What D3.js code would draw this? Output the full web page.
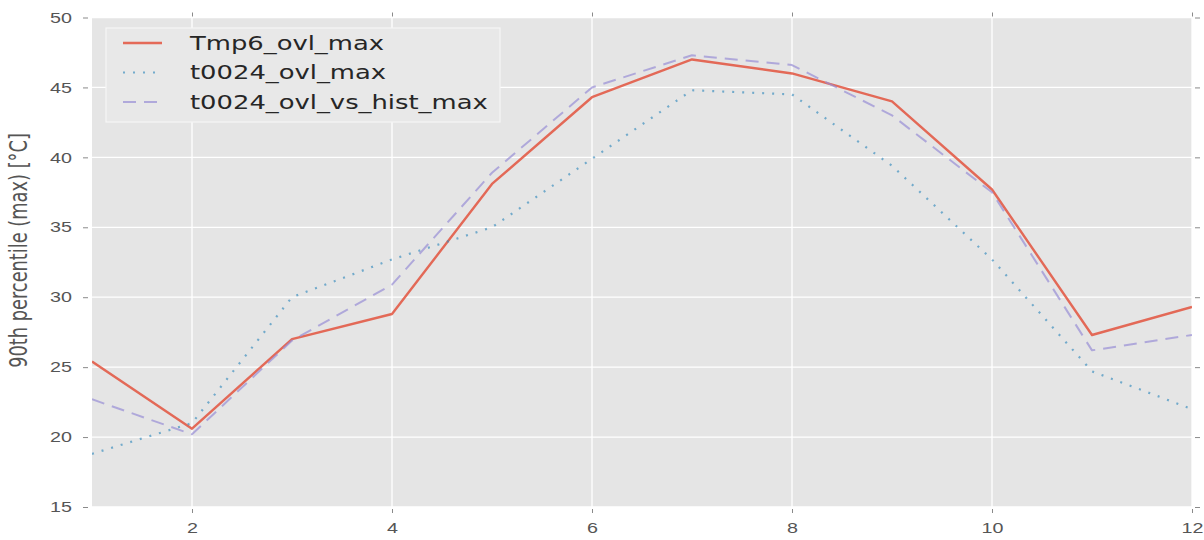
<!DOCTYPE html>
<html>
<head>
<meta charset="utf-8">
<script src="https://cdn.jsdelivr.net/npm/d3@7"></script>
<style>
  body { margin: 0; background: #fff; }
  svg { display: block; font-family: "DejaVu Sans", sans-serif; }
  .grid line { stroke: #fff; stroke-width: 1.3; }
  .axis path { display: none; }
  .axis line { stroke: #8a8a8a; stroke-width: 1; }
  .axis text { fill: #555; font-size: 14.5px; }
</style>
</head>
<body>
<svg width="1204" height="540"></svg>
<script>
const months = [1, 2, 3, 4, 5, 6, 7, 8, 9, 10, 11, 12];
const tmp6 = [25.4, 20.6, 27.0, 28.8, 38.1, 44.3, 47.0, 46.0, 44.0, 37.7, 27.3, 29.3];
const t0024 = [18.8, 21.0, 30.0, 32.7, 35.0, 39.9, 44.8, 44.5, 39.4, 32.7, 24.7, 22.0];
const t0024Hist = [22.7, 20.2, 26.9, 30.9, 38.9, 45.0, 47.3, 46.6, 43.0, 37.5, 26.2, 27.3];
const xTicks = [2, 4, 6, 8, 10, 12];
const yTicks = [15, 20, 25, 30, 35, 40, 45, 50];
const seriesNames = ["Tmp6_ovl_max", "t0024_ovl_max", "t0024_ovl_vs_hist_max"];
const yLabel = "90th percentile (max) [°C]";

// the picture is stretched sideways, so text gets the same stretch
const SX = 1.36;

const svg = d3.select("svg");
const pLeft = 92, pRight = 1192, pTop = 17.5, pBottom = 507;

const x = d3.scaleLinear().domain([1, 12]).range([pLeft, pRight]);
const y = d3.scaleLinear().domain([15, 50]).range([pBottom, pTop]);

svg.append("rect")
    .attr("x", pLeft).attr("y", pTop)
    .attr("width", pRight - pLeft).attr("height", pBottom - pTop)
    .attr("fill", "#e5e5e5");

svg.append("clipPath").attr("id", "plot")
  .append("rect")
    .attr("x", pLeft).attr("y", pTop)
    .attr("width", pRight - pLeft).attr("height", pBottom - pTop);

const grid = svg.append("g").attr("class", "grid");
grid.selectAll(".gx").data(xTicks).join("line")
    .attr("class", "gx")
    .attr("x1", d => x(d)).attr("x2", d => x(d))
    .attr("y1", pTop).attr("y2", pBottom);
grid.selectAll(".gy").data(yTicks).join("line")
    .attr("class", "gy")
    .attr("x1", pLeft).attr("x2", pRight)
    .attr("y1", d => y(d)).attr("y2", d => y(d));

// ticks sit a little outside the plot edge
function fixTicks(g, gap, len, horizontal) {
    g.selectAll(".tick line").each(function () {
        const l = d3.select(this);
        if (horizontal) l.attr("x1", gap).attr("x2", gap + len);
        else l.attr("y1", gap).attr("y2", gap + len);
    });
}

const gLeft = svg.append("g").attr("class", "axis")
    .attr("transform", `translate(${pLeft},0)`)
    .call(d3.axisLeft(y).tickValues(yTicks).tickSizeOuter(0));
fixTicks(gLeft, -9, 5, true);
gLeft.selectAll("text")
    .attr("x", -20 / SX)
    .attr("transform", `scale(${SX},1)`);

const gRight = svg.append("g").attr("class", "axis")
    .attr("transform", `translate(${pRight},0)`)
    .call(d3.axisRight(y).tickValues(yTicks).tickSizeOuter(0).tickFormat(""));
fixTicks(gRight, 3, 5, true);

const gBottom = svg.append("g").attr("class", "axis")
    .attr("transform", `translate(0,${pBottom})`)
    .call(d3.axisBottom(x).tickValues(xTicks).tickSizeOuter(0));
fixTicks(gBottom, 2, 4, false);
gBottom.selectAll("text")
    .attr("y", 26).attr("dy", 0)
    .attr("transform", `scale(${SX},1)`);

const gTop = svg.append("g").attr("class", "axis")
    .attr("transform", `translate(0,${pTop})`)
    .call(d3.axisTop(x).tickValues(xTicks).tickSizeOuter(0).tickFormat(""));
fixTicks(gTop, -5, 4, false);

svg.append("text")
    .attr("transform", `translate(27,250.5) scale(${SX},1) rotate(-90)`)
    .attr("text-anchor", "middle")
    .attr("fill", "#555")
    .attr("font-size", 17.8)
    .text(yLabel);

const series = [
    { name: seriesNames[0], values: tmp6, color: "#E24A33", dash: null, width: 2.4, opacity: 0.8 },
    { name: seriesNames[1], values: t0024, color: "#348ABD", dash: "2,8", width: 2.2, opacity: 0.65 },
    { name: seriesNames[2], values: t0024Hist, color: "#988ED5", dash: "13,8", width: 2, opacity: 0.7 }
];

const line = d3.line()
    .x((d, i) => x(months[i]))
    .y(d => y(d));

const lines = svg.append("g").attr("clip-path", "url(#plot)");
series.forEach(s => {
    lines.append("path")
        .datum(s.values)
        .attr("d", line)
        .attr("fill", "none")
        .attr("stroke", s.color)
        .attr("stroke-opacity", s.opacity)
        .attr("stroke-width", s.width)
        .attr("stroke-dasharray", s.dash)
        .attr("stroke-linejoin", "round");
});

// legend
const legend = svg.append("g");
legend.append("rect")
    .attr("x", 106).attr("y", 28)
    .attr("width", 394).attr("height", 94)
    .attr("fill", "#e8e8e8")
    .attr("stroke", "#f6f6f6")
    .attr("stroke-width", 1.2);

const rowY = d3.scalePoint().domain(seriesNames).range([43, 102]);
series.forEach(s => {
    const ry = rowY(s.name);
    legend.append("line")
        .attr("x1", 123).attr("x2", 162)
        .attr("y1", ry).attr("y2", ry)
        .attr("stroke", s.color)
        .attr("stroke-opacity", s.opacity)
        .attr("stroke-width", s.width)
        .attr("stroke-dasharray", s.dash);
    legend.append("text")
        .attr("transform", `translate(190,${ry}) scale(${SX},1)`)
        .attr("dy", "0.36em")
        .attr("font-size", 19)
        .attr("fill", "#262626")
        .text(s.name);
});
</script>
</body>
</html>
